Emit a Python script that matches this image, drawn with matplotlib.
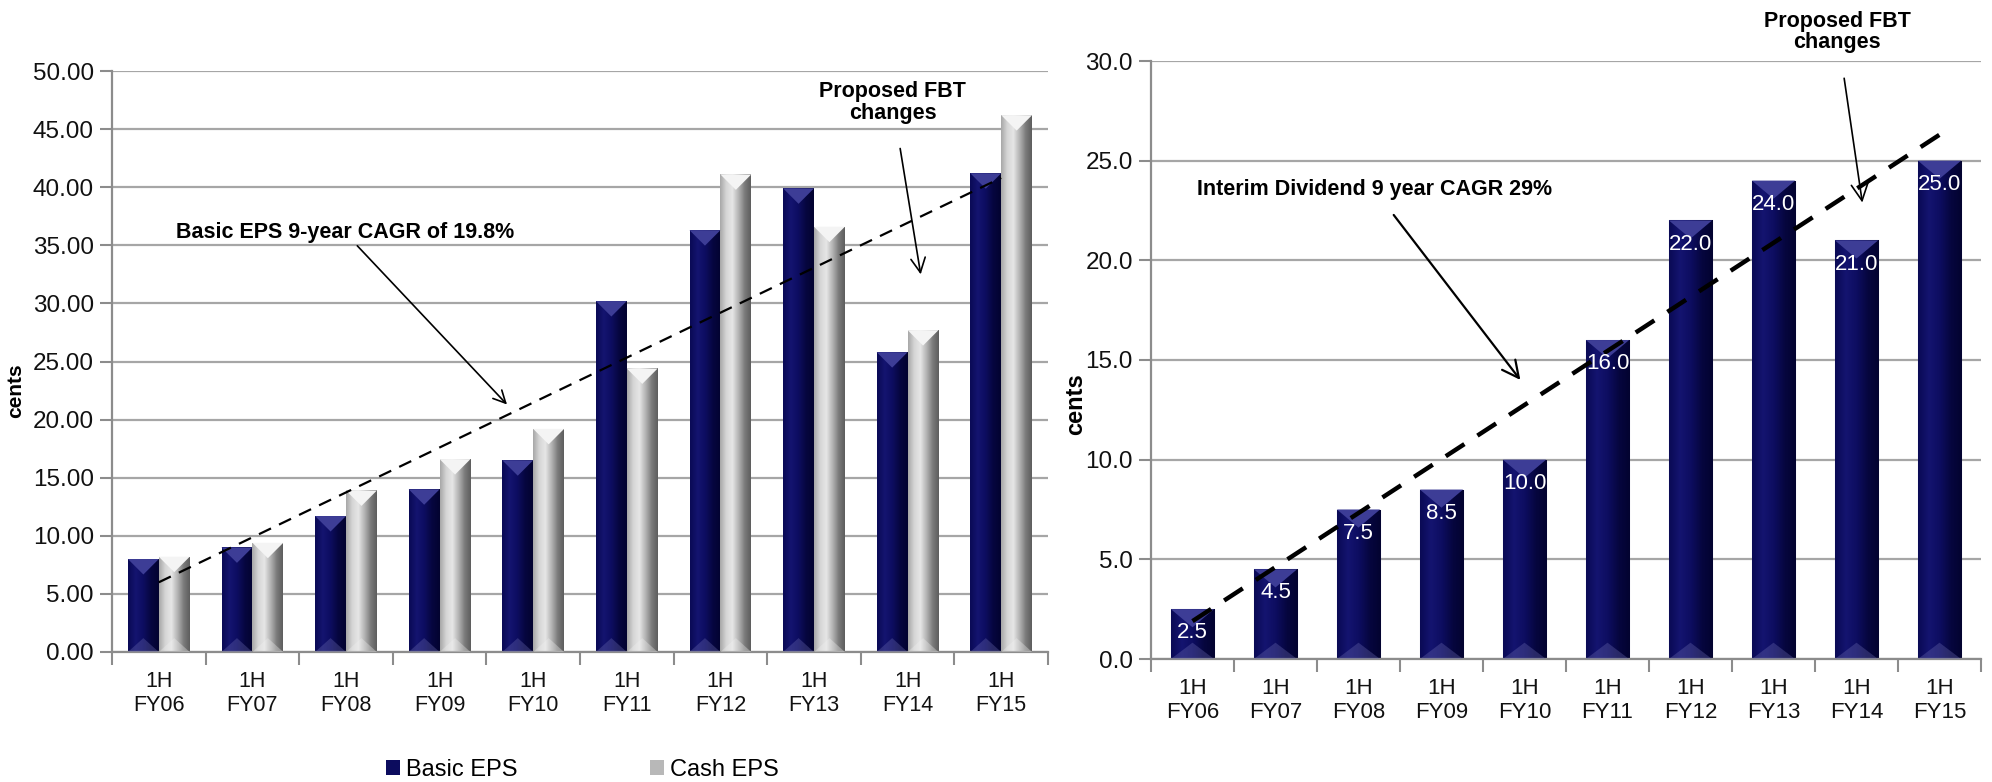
import numpy as np
import matplotlib
matplotlib.use("Agg")
import matplotlib.pyplot as plt
from matplotlib.colors import LinearSegmentedColormap
from matplotlib.patches import Polygon

plt.rcParams['font.family'] = ['Liberation Sans', 'DejaVu Sans']

# --- dados ---
periods = ['1H\nFY06', '1H\nFY07', '1H\nFY08', '1H\nFY09', '1H\nFY10',
           '1H\nFY11', '1H\nFY12', '1H\nFY13', '1H\nFY14', '1H\nFY15']
basic_eps = [8.0, 9.0, 11.7, 14.0, 16.5, 30.2, 36.3, 39.9, 25.8, 41.2]
cash_eps = [8.2, 9.4, 13.9, 16.6, 19.2, 24.4, 41.1, 36.6, 27.7, 46.2]
interim_div = [2.5, 4.5, 7.5, 8.5, 10.0, 16.0, 22.0, 24.0, 21.0, 25.0]
eps_trend = [6.0, 40.8]     # linha de tendência (FY06 -> FY15)
div_trend = [1.9, 26.3]

NAVY = '#0c0c5e'
SILVER = '#b8b8b8'
GRID = '#a6a6a6'

navy_cmap = LinearSegmentedColormap.from_list(
    'navy', ['#0a0a55', '#141470', '#0d0d60', '#06063f', '#030330'])
silver_cmap = LinearSegmentedColormap.from_list(
    'silver', ['#a8a8a8', '#d6d6d6', '#e6e6e6', '#b4b4b4', '#7c7c7c', '#5e5e5e'])

W, H, DPI = 1992, 782, 100
fig = plt.figure(figsize=(W / DPI, H / DPI), dpi=DPI)


def make_axes(left, right, bottom, top):
    return fig.add_axes([left / W, 1 - bottom / H, (right - left) / W, (bottom - top) / H])


def style_axes(ax, ymax, step, fmt, fs_y, fs_x):
    ax.set_xlim(-0.5, len(periods) - 0.5)
    ax.set_ylim(0, ymax)
    ax.set_yticks(np.arange(0, ymax + step / 2, step))
    ax.set_yticklabels([fmt.format(v) for v in np.arange(0, ymax + step / 2, step)], fontsize=fs_y)
    ax.set_xticks(range(len(periods)))
    ax.set_xticklabels(periods, fontsize=fs_x, linespacing=1.15)
    ax.set_xticks(np.arange(-0.5, len(periods)), minor=True)
    ax.tick_params(axis='x', which='major', length=0, pad=14, colors='#111111')
    ax.tick_params(axis='x', which='minor', length=9, width=1.5, color='#8c8c8c', direction='out')
    ax.tick_params(axis='y', length=9, width=1.5, color='#8c8c8c', pad=4, labelcolor='#111111')
    ax.yaxis.grid(True, color=GRID, lw=1.6)
    ax.set_axisbelow(True)
    for s in ['top', 'right']:
        ax.spines[s].set_visible(False)
    for s in ['left', 'bottom']:
        ax.spines[s].set_color('#8c8c8c')
        ax.spines[s].set_linewidth(1.6)


def shade_bars(ax, bars, cmap, top_col, bot_col, depth_frac):
    # gradiente horizontal + chanfro triangular no topo e na base
    grad = np.linspace(0, 1, 64).reshape(1, -1)
    ppu_x = ax.bbox.width / np.diff(ax.get_xlim())[0]
    ppu_y = ax.bbox.height / np.diff(ax.get_ylim())[0]
    for b in bars:
        x0, w, h = b.get_x(), b.get_width(), b.get_height()
        im = ax.imshow(grad, cmap=cmap, aspect='auto', extent=(x0, x0 + w, 0, h),
                       zorder=2, interpolation='bilinear')
        im.set_clip_path(b)
        d = depth_frac * w * ppu_x / ppu_y
        ax.add_patch(Polygon([(x0, h), (x0 + w, h), (x0 + w / 2, h - d)],
                             closed=True, fc=top_col, ec='none', zorder=3))
        ax.add_patch(Polygon([(x0, 0), (x0 + w, 0), (x0 + w / 2, d * 0.9)],
                             closed=True, fc=bot_col, ec='none', alpha=0.35, zorder=3))


x = np.arange(len(periods))

# --- gráfico da esquerda: EPS ---
ax1 = make_axes(112, 1048, 652, 71)
style_axes(ax1, 50, 5, '{:.2f}', 17.5, 15.5)
bw = 0.33
b_basic = ax1.bar(x - bw / 2, basic_eps, bw, color=NAVY, label='Basic EPS', zorder=2)
b_cash = ax1.bar(x + bw / 2, cash_eps, bw, color=SILVER, label='Cash EPS', zorder=2)
shade_bars(ax1, b_basic, navy_cmap, '#3d3d96', '#6a6ab0', 0.5)
shade_bars(ax1, b_cash, silver_cmap, '#f4f4f4', '#f0f0f0', 0.5)
ax1.set_xlim(-0.5, len(periods) - 0.5)
ax1.set_ylim(0, 50)

ax1.plot([x[0], x[-1]], eps_trend, color='black', lw=1.6, dashes=(6, 4), zorder=4)

ax1.annotate('Basic EPS 9-year CAGR of 19.8%', xy=(3.72, 21.3), xytext=(0.18, 36.1),
             fontsize=15.5, fontweight='bold', ha='left', va='center',
             arrowprops=dict(arrowstyle='->', color='black', lw=1.2, shrinkA=0, shrinkB=0,
                             mutation_scale=22))
ax1.annotate('Proposed FBT\nchanges', xy=(8.14, 32.5), xytext=(7.84, 47.3),
             fontsize=15.5, fontweight='bold', ha='center', va='center', linespacing=1.05,
             arrowprops=dict(arrowstyle='->', color='black', lw=1.2, shrinkA=16, shrinkB=0,
                             mutation_scale=26))

ax1.set_ylabel('cents', fontsize=15, fontweight='bold')
ax1.yaxis.set_label_coords(-0.093, 0.45)

ax1.legend(handles=[b_basic, b_cash], loc='center left', bbox_to_anchor=(386 / W, 12 / H),
           bbox_transform=fig.transFigure, ncol=2, frameon=False, fontsize=17,
           handlelength=0.6, handleheight=0.6, handletextpad=0.25, columnspacing=5.6,
           borderpad=0, borderaxespad=0)

# --- gráfico da direita: dividendo interino ---
ax2 = make_axes(1151, 1981, 659, 61)
style_axes(ax2, 30, 5, '{:.1f}', 17.5, 16)
b_div = ax2.bar(x, interim_div, 0.52, color=NAVY, zorder=2, edgecolor='#9a9ab8', linewidth=0.8)
shade_bars(ax2, b_div, navy_cmap, '#3d3d96', '#6a6ab0', 0.42)
ax2.set_xlim(-0.5, len(periods) - 0.5)
ax2.set_ylim(0, 30)

for i, v in enumerate(interim_div):
    ax2.annotate(f'{v:.1f}', (i, v), xytext=(0, -17), textcoords='offset points',
                 ha='center', va='center', color='white', fontsize=16, zorder=5)

ax2.plot([x[0], x[-1]], div_trend, color='black', lw=3.2, dashes=(5, 3.5), zorder=4)

ax2.annotate('Interim Dividend 9 year CAGR 29%', xy=(3.95, 14.0), xytext=(0.05, 23.55),
             fontsize=15.5, fontweight='bold', ha='left', va='center',
             arrowprops=dict(arrowstyle='->', color='black', lw=1.6, shrinkA=11, shrinkB=0,
                             mutation_scale=30))
ax2.annotate('Proposed FBT\nchanges', xy=(8.07, 22.9), xytext=(7.77, 31.45),
             fontsize=15.5, fontweight='bold', ha='center', va='center', linespacing=1.05,
             annotation_clip=False,
             arrowprops=dict(arrowstyle='->', color='black', lw=1.2, shrinkA=16, shrinkB=0,
                             mutation_scale=30))

ax2.set_ylabel('cents', fontsize=17, fontweight='bold')
ax2.yaxis.set_label_coords(-0.077, 0.426)

fig.savefig('out.png', dpi=DPI)
